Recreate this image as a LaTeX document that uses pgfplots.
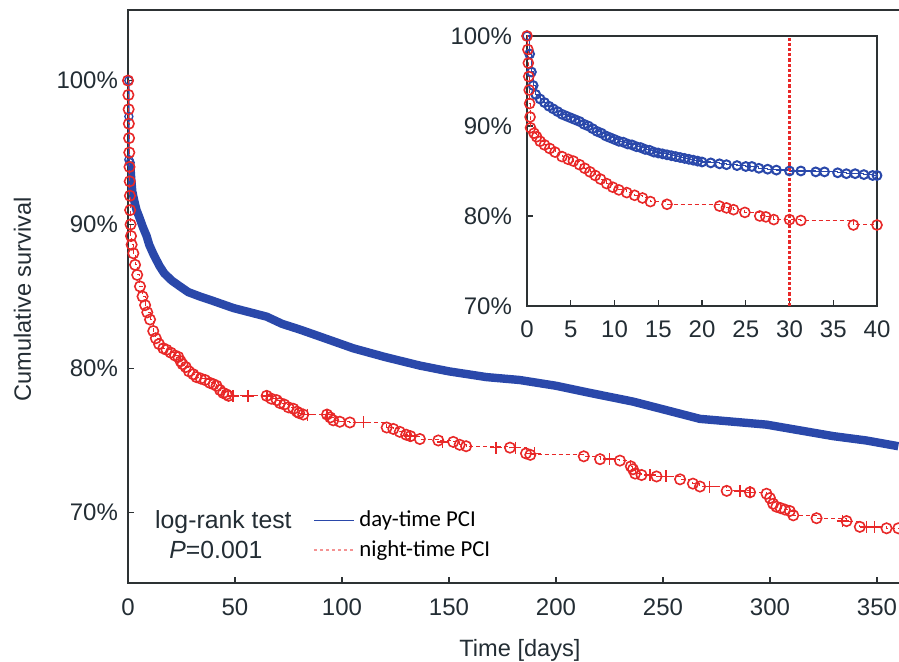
\documentclass[border=0pt]{standalone}
\usepackage{pgfplots}
\usepackage{pgfplotstable}
\pgfplotsset{compat=1.18}
\usepackage{fontspec}
\setmainfont{Liberation Sans}
\newfontfamily\carlito{Carlito}
\definecolor{daycol}{RGB}{42,72,170}
\definecolor{nightcol}{RGB}{232,40,40}
\definecolor{axcol}{RGB}{45,50,52}
\definecolor{txtcol}{RGB}{35,45,52}

% day-time PCI, main chart (days, survival %)
\pgfplotstableread{
d s
1.0 94.3
1.5 93.2
2 92.3
3 91.6
4 91.0
5.3 90.5
7 89.8
8.7 89.2
9.9 88.6
12 87.9
14.8 87.1
17 86.6
20.5 86.1
24.3 85.7
28.2 85.3
33.6 85.0
39.6 84.7
49.2 84.2
57 83.9
64.8 83.6
72 83.1
80.4 82.7
90 82.2
105.3 81.4
120 80.8
136.4 80.2
150 79.8
167.6 79.4
183 79.2
200 78.8
216 78.3
236 77.7
251.7 77.1
267.3 76.5
283 76.3
298.4 76.1
314 75.7
329.6 75.3
345 75.0
360 74.6
}\daymain

% night-time PCI, main chart: events
\pgfplotstableread{
d s
0 100
0.2 99
0.3 98
0.4 97
0.5 96
0.6 95
0.7 94
0.8 93
0.9 92
1.0 91
1.2 90
1.4 89.2
1.7 88.6
2.5 88.0
3.3 87.2
4.3 86.5
5.6 85.7
6.8 85.0
8 84.4
9 83.9
10.3 83.4
11.8 82.6
13 82.1
14.5 81.7
16.5 81.4
18 81.3
20 81.1
22 80.9
23.5 80.8
24.6 80.5
25.5 80.3
27 80.1
28.5 79.8
30.5 79.6
32 79.4
34 79.3
36 79.2
38.3 79.0
40 78.9
41.4 78.8
43 78.5
44.5 78.3
46 78.2
47 78.1
64.8 78.1
67 77.9
69.5 77.8
71 77.6
73 77.5
75 77.3
77.3 77.2
79 77.0
80 76.9
81.9 76.8
93 76.8
94.5 76.6
95.9 76.4
99 76.3
103.7 76.25
120.9 75.9
124 75.8
127 75.6
130 75.4
132 75.3
136.4 75.1
145 75.0
152 74.9
155 74.7
158 74.6
178.5 74.5
186 74.1
188 74.0
213 73.9
220.6 73.7
229.9 73.6
235 73.2
236 73.0
237 72.7
240 72.6
247 72.5
258 72.3
264 72.0
267.3 71.8
279.8 71.5
290.7 71.4
298.4 71.3
300 71.0
301.5 70.6
303 70.4
305 70.3
307 70.2
309.3 70.1
310.9 69.8
321.8 69.6
335.8 69.4
342 69.0
354.5 68.9
360 68.9
}\nightmain

% night-time PCI, main chart: censored
\pgfplotstableread{
d s
49 78.1
56 78.1
65 78.1
84 76.8
93 76.8
110 76.25
131.8 75.3
147 74.9
172 74.5
181 74.5
190 74.1
225 73.7
244 72.6
251.5 72.5
271.8 71.8
286 71.5
290.7 71.4
334 69.4
345 69.0
349 69.0
}\nightcens

% day-time PCI, first 40 days
\pgfplotstableread{
d s
0 100
0.3 98
0.5 96
0.7 94.5
1 93.5
1.5 93.0
2 92.6
2.5 92.2
3 91.9
3.5 91.6
4 91.3
4.5 91.1
5 90.9
5.5 90.7
6 90.5
6.5 90.2
7 90.0
7.5 89.7
8 89.4
8.5 89.2
9 88.9
9.5 88.7
10 88.5
10.5 88.3
11 88.2
11.5 88.0
12 87.9
12.5 87.7
13 87.6
13.5 87.4
14 87.3
14.5 87.1
15 87.0
15.5 86.9
16 86.8
16.5 86.7
17 86.6
17.5 86.5
18 86.4
18.5 86.3
19 86.2
19.5 86.1
20 86.0
21 85.9
22 85.8
22.8 85.7
24 85.6
25 85.5
25.7 85.5
26.5 85.3
27.5 85.2
28.5 85.1
30 85.0
31.3 85.0
33 84.9
34 84.9
35.5 84.8
36.5 84.7
37.5 84.7
38.5 84.6
39.5 84.5
40 84.5
}\dayinset

% night-time PCI, first 40 days
\pgfplotstableread{
d s
0 100
0.1 98.5
0.15 97
0.2 95.5
0.25 94
0.3 92.5
0.35 91
0.4 89.8
0.8 89.2
1.1 88.8
1.5 88.3
2 87.9
2.6 87.5
3.2 87.1
4 86.6
4.7 86.3
5.3 86.1
6 85.7
6.6 85.3
7.2 84.9
7.8 84.5
8.4 84.1
9.1 83.6
9.8 83.2
10.5 82.9
11.4 82.6
12.3 82.3
13.2 82.0
14.1 81.6
16 81.3
22 81.1
22.8 80.9
23.6 80.7
24.9 80.4
26.6 80.0
27.3 79.9
28.2 79.6
30 79.6
31.3 79.5
37.3 79.0
40 79.0
}\nightinset

\begin{document}
\begin{tikzpicture}
\path[use as bounding box] (0pt,0pt) rectangle (449.5pt,331pt);

\begin{axis}[
    at={(64pt,39.5pt)}, anchor=south west,
    scale only axis,
    width=387.3pt, height=286.5pt,
    xmin=0, xmax=362,
    ymin=65.1, ymax=104.9,
    axis line style={axcol, line width=0.7pt},
    tick style={axcol, line width=0.7pt},
    tick align=inside,
    major tick length=3pt,
    xtick pos=bottom, ytick pos=left,
    xtick={0,50,...,350},
    xticklabels={0,50,100,150,200,250,300,350},
    ytick={70,80,90,100},
    yticklabels={70\%,80\%,90\%,100\%},
    tick label style={font=\fontsize{12}{14}\selectfont, text=txtcol},
    xticklabel style={yshift=-4.5pt},
    yticklabel style={xshift=-1.5pt},
    xlabel={Time [days]},
    ylabel={Cumulative survival},
    label style={font=\fontsize{11.8}{14}\selectfont, text=txtcol},
    xlabel style={at={(axis description cs:0.506,-0.117)}, anchor=center},
    ylabel style={at={(axis description cs:-0.1363,0.495)}, anchor=center},
    legend image code/.code={\draw[#1] (0pt,0pt) -- (20pt,0pt);},
    legend style={at={(axis cs:86.4,70.4)}, anchor=north west, draw=none,
        fill=none, font=\carlito\fontsize{11.4}{13}\selectfont,
        inner sep=0pt, row sep=1.5pt, cells={anchor=west}},
]
% day-time: dense band of censoring marks
\addplot[forget plot, daycol, line width=4.2pt, line join=round]
    table[x=d, y=s] {\daymain};
\addplot[forget plot, daycol, line width=0.7pt, mark=o, mark size=2pt]
    coordinates {(0.4,100) (0.4,97.5) (0.4,94.5) (1.0,94.3)};
% night-time
\addplot[forget plot, nightcol, line width=0.5pt, dash pattern=on 2pt off 1.5pt,
    const plot, mark=o, mark size=2.6pt, mark options={solid, line width=0.8pt}]
    table[x=d, y=s] {\nightmain};
\addplot[forget plot, nightcol, only marks, mark=+, mark size=3pt,
    mark options={line width=0.7pt}]
    table[x=d, y=s] {\nightcens};

\addlegendimage{daycol, line width=0.8pt}
\addlegendentry{day-time PCI}
\addlegendimage{nightcol!50, line width=1.1pt, dash pattern=on 1.5pt off 1.5pt}
\addlegendentry{night-time PCI}

\node[font=\fontsize{12.4}{14}\selectfont, text=txtcol] at (axis cs:44.6,69.34) {log-rank test};
\node[font=\fontsize{12.4}{14}\selectfont, text=txtcol] at (axis cs:41.1,67.4) {\textit{P}=0.001};
\end{axis}

\begin{axis}[
    at={(263.5pt,178pt)}, anchor=south west,
    scale only axis,
    width=175pt, height=135pt,
    xmin=0, xmax=40, ymin=70, ymax=100,
    axis background/.style={fill=white},
    axis line style={axcol, line width=0.7pt},
    tick style={axcol, line width=0.7pt},
    tick align=inside,
    major tick length=3pt,
    xtick pos=bottom, ytick pos=left,
    xtick={0,5,...,40},
    xticklabels={0,5,10,15,20,25,30,35,40},
    ytick={70,80,90,100},
    yticklabels={70\%,80\%,90\%,100\%},
    tick label style={font=\fontsize{12}{14}\selectfont, text=txtcol},
    xticklabel style={yshift=-4pt},
    yticklabel style={xshift=-4pt},
]
\addplot[daycol, line width=0.6pt, const plot, mark=o, mark size=2.2pt,
    mark options={line width=1pt}]
    table[x=d, y=s] {\dayinset};
\addplot[nightcol, line width=0.5pt, dash pattern=on 2pt off 1.5pt,
    const plot, mark=o, mark size=2.5pt, mark options={solid, line width=0.8pt}]
    table[x=d, y=s] {\nightinset};
\addplot[nightcol, line width=1.3pt, dash pattern=on 1.6pt off 1pt]
    coordinates {(30,70) (30,100)};
\end{axis}
\end{tikzpicture}
\end{document}
